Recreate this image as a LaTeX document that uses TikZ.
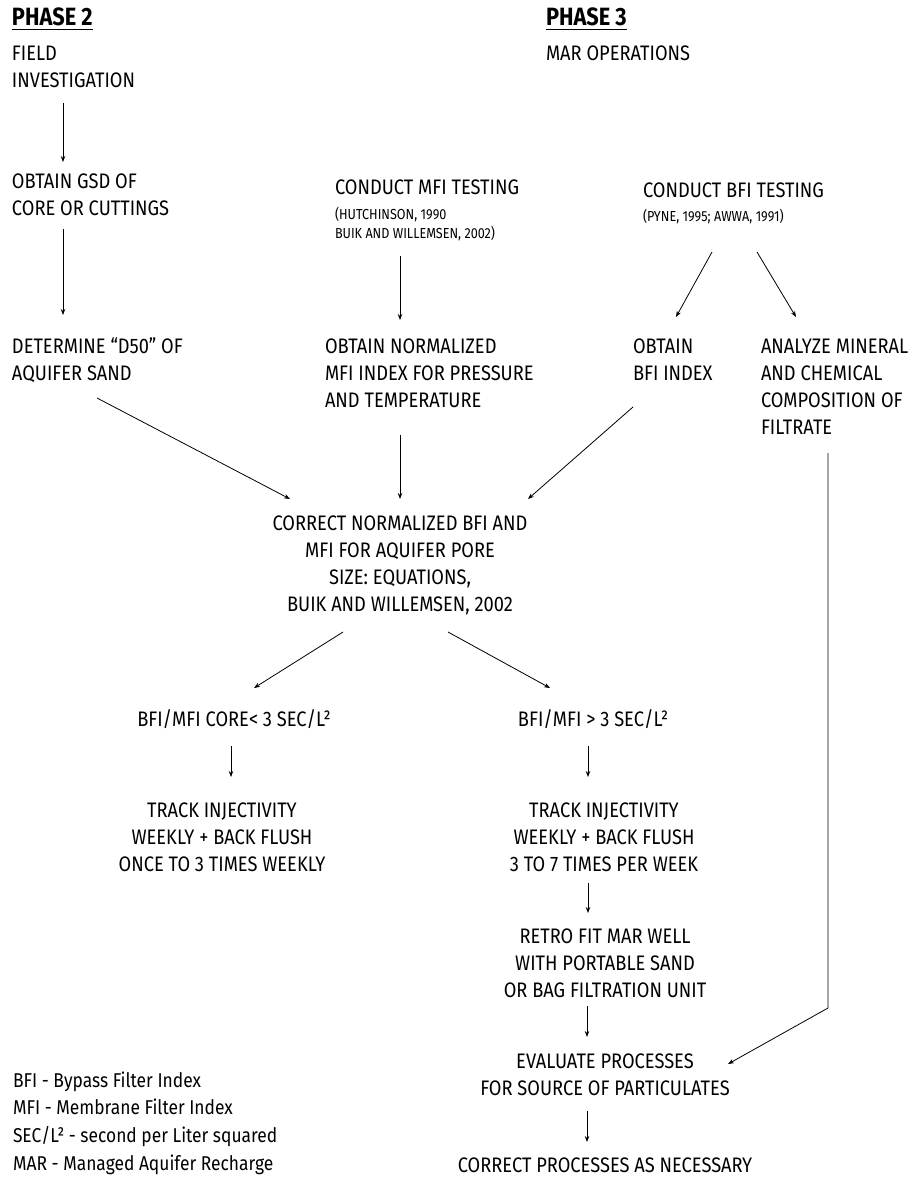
\documentclass[tikz,border=0pt]{standalone}
\usepackage{fontspec}
\setmainfont{Fira Sans}[FakeStretch=0.87]
\usetikzlibrary{arrows.meta,calc}

% multi-line blocks whose baseline is the baseline of their first line
\newcommand\leftlines[1]{\vtop{\halign{##\hfil\cr#1\crcr}}}
\newcommand\midlines[1]{\vtop{\halign{\hfil##\hfil\cr#1\crcr}}}

\tikzset{
  txt/.style={inner sep=0pt, outer sep=0pt, font=\fontsize{21}{27}\selectfont},
  lt/.style={txt, anchor=base west},
  ct/.style={txt, anchor=base},
  reftxt/.style={inner sep=0pt, outer sep=0pt, anchor=base west, font=\fontsize{14.5}{19}\selectfont},
  phase/.style={inner sep=0pt, outer sep=0pt, anchor=base west, font=\bfseries\fontsize{25}{30}\selectfont},
  legendtxt/.style={inner sep=0pt, outer sep=0pt, anchor=base west, font=\fontsize{20}{27.7}\selectfont},
  arr/.style={draw=black, line width=0.8pt, -{Stealth[length=6pt,width=4.5pt]}},
  uline/.style={draw=black, line width=1.5pt}
}

\begin{document}
\begin{tikzpicture}[x=1pt,y=-1pt]
\useasboundingbox (0,0) rectangle (917,1177);

% phase headings
\node[phase] (ph2) at (12,26) {PHASE 2};
\node[phase] (ph3) at (546,26) {PHASE 3};
\draw[uline] ($(ph2.base west)+(0,3.5)$) -- ($(ph2.base east)+(0,3.5)$);
\draw[uline] ($(ph3.base west)+(0,3.5)$) -- ($(ph3.base east)+(0,3.5)$);

\node[lt] (field) at (12,61) {\leftlines{FIELD\cr INVESTIGATION}};
\node[lt] (mar) at (546,61) {MAR OPERATIONS};

% testing steps
\node[lt] (gsd) at (12,189) {\leftlines{OBTAIN GSD OF\cr CORE OR CUTTINGS}};
\node[lt] (mfitest) at (335,195) {CONDUCT MFI TESTING};
\node[reftxt] (mfiref) at (335,219) {\leftlines{(HUTCHINSON, 1990\cr BUIK AND WILLEMSEN, 2002)}};
\node[lt] (bfitest) at (643,197) {CONDUCT BFI TESTING};
\node[reftxt] (bfiref) at (643,221) {(PYNE, 1995; AWWA, 1991)};

% results of the tests
\node[lt] (d50) at (12,353) {\leftlines{DETERMINE “D50” OF\cr AQUIFER SAND}};
\node[lt] (norm) at (325,353) {\leftlines{OBTAIN NORMALIZED\cr MFI INDEX FOR PRESSURE\cr AND TEMPERATURE}};
\node[lt] (bfiidx) at (633,353) {\leftlines{OBTAIN\cr BFI INDEX}};
\node[lt] (analyze) at (761,353) {\leftlines{ANALYZE MINERAL\cr AND CHEMICAL\cr COMPOSITION OF\cr FILTRATE}};

\node[ct] (correct) at (400,530) {\midlines{CORRECT NORMALIZED BFI AND\cr MFI FOR AQUIFER PORE\cr SIZE: EQUATIONS,\cr BUIK AND WILLEMSEN, 2002}};

% decision branches
\node[ct] (low) at (234,726) {BFI/MFI CORE< 3 SEC/L²};
\node[ct] (high) at (593,726) {BFI/MFI > 3 SEC/L²};

\node[ct] (trackL) at (222,817) {\midlines{TRACK INJECTIVITY\cr WEEKLY + BACK FLUSH\cr ONCE TO 3 TIMES WEEKLY}};
\node[ct] (trackH) at (604,817) {\midlines{TRACK INJECTIVITY\cr WEEKLY + BACK FLUSH\cr 3 TO 7 TIMES PER WEEK}};
\node[ct] (retro) at (605,943) {\midlines{RETRO FIT MAR WELL\cr WITH PORTABLE SAND\cr OR BAG FILTRATION UNIT}};
\node[ct] (eval) at (605,1068) {\midlines{EVALUATE PROCESSES\cr FOR SOURCE OF PARTICULATES}};
\node[ct] (corrproc) at (605,1172) {CORRECT PROCESSES AS NECESSARY};

% abbreviations
\node[legendtxt] (legend) at (13,1087) {\leftlines{BFI - Bypass Filter Index\cr MFI - Membrane Filter Index\cr SEC/L² - second per Liter squared\cr MAR - Managed Aquifer Recharge}};

% connectors
\draw[arr] ($(field.base west)+(51,42)$) -- ($(gsd.base west)+(51,-27)$);
\draw[arr] ($(gsd.base west)+(51,40)$) -- ($(d50.base west)+(51,-38)$);
\draw[arr] ($(mfiref.base west)+(65,37)$) -- ($(norm.base west)+(75,-33)$);
\draw[arr] ($(bfiref.base west)+(69,31)$) -- ($(bfiidx.base west)+(43,-36)$);
\draw[arr] ($(bfiref.base west)+(114,31)$) -- ($(analyze.base west)+(35,-36)$);

\draw[arr] ($(d50.base west)+(85,45)$) -- ($(correct.base)+(-110,-31)$);
\draw[arr] ($(norm.base west)+(75,82)$) -- ($(correct.base)+(0,-31)$);
\draw[arr] ($(bfiidx.base west)+(0,54)$) -- ($(correct.base)+(128,-31)$);
\draw[arr] ($(analyze.base west)+(67,100)$) -- ($(eval.base)+(223,-60)$) -- ($(eval.base)+(123,-4)$);

\draw[arr] ($(correct.base)+(-57,102)$) -- ($(low.base)+(20,-38)$);
\draw[arr] ($(correct.base)+(48,102)$) -- ($(high.base)+(-43,-38)$);
\draw[arr] ($(low.base)+(-3,20)$) -- ($(trackL.base)+(9,-40)$);
\draw[arr] ($(high.base)+(-5,20)$) -- ($(trackH.base)+(-16,-40)$);
\draw[arr] ($(trackH.base)+(-16,66)$) -- ($(retro.base)+(-17,-30)$);
\draw[arr] ($(retro.base)+(-18,63)$) -- ($(eval.base)+(-18,-31)$);
\draw[arr] ($(eval.base)+(-18,43)$) -- ($(corrproc.base)+(-18,-30)$);
\end{tikzpicture}
\end{document}
